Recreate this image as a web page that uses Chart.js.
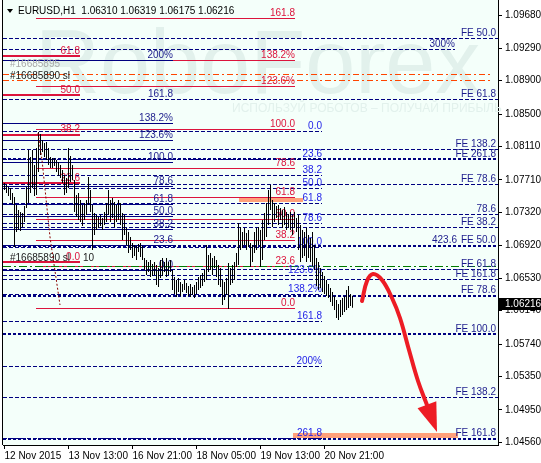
<!DOCTYPE html>
<html>
<head>
<meta charset="utf-8">
<title>EURUSD,H1</title>
<script src="https://cdn.jsdelivr.net/npm/chart.js@4.4.1/dist/chart.umd.min.js"></script>
<style>
  html, body { margin: 0; padding: 0; background: #fff; }
  canvas { display: block; }
</style>
</head>
<body>
<canvas id="chart" width="541" height="463"></canvas>
<script>
// Bars (H1), high / low
const barHigh = [
  1.07672, 1.07648, 1.07624, 1.07612, 1.07552, 1.07504, 1.07408, 1.07348, 1.07324, 1.07312,
  1.07396, 1.07624, 1.08068, 1.07984, 1.08068, 1.07888, 1.08092, 1.08284, 1.08260, 1.08188,
  1.08152, 1.08164, 1.08092, 1.07984, 1.07972, 1.07972, 1.07948, 1.07924, 1.07888, 1.07828,
  1.07768, 1.07732, 1.08092, 1.07996, 1.07888, 1.07708, 1.07528, 1.07552, 1.07468, 1.07408,
  1.07432, 1.07468, 1.07744, 1.07588, 1.07408, 1.07312, 1.07288, 1.07264, 1.07288, 1.07252,
  1.07324, 1.07432, 1.07588, 1.07468, 1.07492, 1.07444, 1.07408, 1.07468, 1.07432, 1.07312,
  1.07288, 1.07132, 1.07084, 1.07024, 1.06952, 1.06928, 1.06916, 1.06940, 1.06952, 1.06916,
  1.06772, 1.06748, 1.06724, 1.06748, 1.06700, 1.06724, 1.06688, 1.06652, 1.06748, 1.06772,
  1.06724, 1.06772, 1.06724, 1.06748, 1.06628, 1.06544, 1.06508, 1.06532, 1.06484, 1.06460,
  1.06508, 1.06472, 1.06436, 1.06460, 1.06424, 1.06448, 1.06484, 1.06544, 1.06568, 1.06592,
  1.06628, 1.06928, 1.06808, 1.06832, 1.06772, 1.06796, 1.06748, 1.06688, 1.06652, 1.06508,
  1.06484, 1.06532, 1.06712, 1.06652, 1.06688, 1.06724, 1.06832, 1.07192, 1.07144, 1.07084,
  1.07132, 1.07072, 1.07108, 1.06952, 1.06928, 1.07084, 1.07132, 1.07144, 1.07108, 1.07228,
  1.07312, 1.07432, 1.07588, 1.07648, 1.07468, 1.07432, 1.07396, 1.07408, 1.07372, 1.07348,
  1.07384, 1.07324, 1.07300, 1.07324, 1.07288, 1.07324, 1.07252, 1.07288, 1.07168, 1.07108,
  1.07084, 1.07132, 1.07048, 1.07012, 1.07084, 1.06928, 1.06772, 1.06724, 1.06652, 1.06604,
  1.06556, 1.06508, 1.06460, 1.06412, 1.06364, 1.06316, 1.06268, 1.06220, 1.06268, 1.06292,
  1.06316, 1.06388, 1.06436, 1.06340, 1.06319
];
const barLow = [
  1.07588, 1.07552, 1.07516, 1.07468, 1.07420, 1.06904, 1.07084, 1.07108, 1.07096, 1.07144,
  1.07204, 1.07372, 1.07432, 1.07552, 1.07612, 1.07516, 1.07528, 1.07804, 1.08008, 1.08044,
  1.07984, 1.07948, 1.07888, 1.07852, 1.07852, 1.07876, 1.07804, 1.07756, 1.07732, 1.07672,
  1.07528, 1.07552, 1.07612, 1.07684, 1.07708, 1.07324, 1.07264, 1.07228, 1.07204, 1.07156,
  1.07228, 1.07288, 1.07408, 1.07324, 1.06868, 1.07048, 1.07108, 1.07132, 1.07156, 1.07108,
  1.07168, 1.07204, 1.07288, 1.07204, 1.07252, 1.07144, 1.07204, 1.07228, 1.07168, 1.06988,
  1.07048, 1.06928, 1.06832, 1.06868, 1.06772, 1.06796, 1.06748, 1.06844, 1.06784, 1.06748,
  1.06628, 1.06568, 1.06604, 1.06544, 1.06556, 1.06568, 1.06448, 1.06424, 1.06532, 1.06556,
  1.06604, 1.06544, 1.06568, 1.06604, 1.06388, 1.06340, 1.06304, 1.06364, 1.06316, 1.06364,
  1.06388, 1.06352, 1.06316, 1.06304, 1.06328, 1.06292, 1.06340, 1.06388, 1.06412, 1.06436,
  1.06484, 1.06508, 1.06604, 1.06628, 1.06568, 1.06652, 1.06544, 1.06448, 1.06424, 1.06208,
  1.06268, 1.06328, 1.06160, 1.06448, 1.06472, 1.06508, 1.06664, 1.06688, 1.06868, 1.06892,
  1.06928, 1.06868, 1.06904, 1.06664, 1.06724, 1.06832, 1.06868, 1.06928, 1.06664, 1.06748,
  1.06988, 1.07024, 1.07168, 1.07348, 1.07144, 1.07204, 1.07252, 1.07168, 1.07228, 1.07132,
  1.07168, 1.07108, 1.07132, 1.07108, 1.07048, 1.07132, 1.07084, 1.06868, 1.06724, 1.06772,
  1.06796, 1.06724, 1.06772, 1.06724, 1.06676, 1.06628, 1.06436, 1.06388, 1.06412, 1.06364,
  1.06340, 1.06316, 1.06292, 1.06244, 1.06196, 1.06148, 1.06052, 1.06028, 1.06064, 1.06088,
  1.06124, 1.06148, 1.06172, 1.06196, 1.06175
];
const lastQuote = ['1.06310', '1.06319', '1.06175', '1.06216'];
const lastClose = 1.06216;

// axes
const xTickBars = [0, 32, 64, 96, 128, 160];
const xTickLabels = ['12 Nov 2015', '13 Nov 13:00', '16 Nov 21:00', '18 Nov 05:00', '19 Nov 13:00', '20 Nov 21:00'];
const yTickValues = [1.09680, 1.09290, 1.08900, 1.08500, 1.08110, 1.07710, 1.07320, 1.06920, 1.06530, 1.06140, 1.05740, 1.05350, 1.04950, 1.04560];
const yMin = 1.04528, yMax = 1.09868;
const xMin = -0.75, xMax = 246.75;

// red fibo (thin)
const redFibo = [1.09652, 1.09136, 1.08824, 1.08320, 1.07852, 1.07492, 1.07240, 1.06976, 1.06676, 1.06160];
const redFiboLabels = ['161.8', '138.2%', '123.6%', '100.0', '78.6', '61.8', '50.0', '38.2', '23.6', '0.0'];
const redFiboSpan = [15.5, 145.25];
// red fibo (thick, short)
const redShort = [1.09196, 1.08728, 1.08248, 1.07672, 1.06724];
const redShortLabels = ['61.8', '50.0', '38.2', '23.6', '0.0'];
const redShortSpan = [xMin, 37.75];
// navy fibo (solid)
const navyFibo = [1.09142, 1.08380, 1.08188, 1.07924, 1.07624, 1.07420, 1.07276, 1.07120, 1.06928, 1.06628];
const navyFiboLabels = ['200%', '138.2%', '123.6%', '100.0', '78.6', '61.8', '50.0', '38.2', '23.6', '0.0'];
const navyFiboSpan = [xMin, 84];
// blue fibo (dashed)
const blueFibo = [1.08296, 1.07960, 1.07768, 1.07612, 1.07432, 1.07192, 1.06892, 1.06556, 1.06340, 1.06016, 1.05464, 1.04600];
const blueFiboLabels = ['0.0', '23.6', '38.2', '50.0', '61.8', '78.6', '100.0', '123.6%', '138.2%', '161.8', '200%', '261.8'];
const blueFiboSpan = [xMin, 158.75];
// FE expansion levels, full width
const feLevels = [1.09412, 1.08668, 1.08080, 1.07660, 1.07288, 1.07132, 1.06640, 1.06520, 1.05092];
const feLabels = ['FE 50.0', 'FE 61.8', 'FE 138.2', 'FE 78.6', '78.6', 'FE 38.2', 'FE 61.8', 'FE 161.8', 'FE 138.2'];
const feDouble = [1.07960, 1.06916, 1.06316, 1.05860, 1.04600];
const feDoubleLabels = ['FE 261.8', 'FE 50.0', 'FE 78.6', 'FE 100.0', 'FE 161.8'];
const feLabelAt = 245.75;
const extLevels = [1.09268];
const extLabels = ['300%'];
const extSpan = [xMin, 225.25];
const looseText = ['161.8', '423.6'];
const looseX = [84, 226.25];
const looseY = [1.08668, 1.06916];
// other lines
const slLevels = [1.08974, 1.08908];
const slSpan = [xMin, 243.75];
const greenLevel = [1.06676];
const orderText = ['#16685895', '#16685890 sl', '#16685890 sl', '10'];
const orderX = [2.75, 2.75, 2.75, 39.25];
const orderY = [1.09100, 1.08956, 1.06772, 1.06772];
// target zones
const zoneFrom = [117.25, 144.25];
const zoneTo = [149.25, 226.75];
const zoneTop = [1.07492, 1.04672];
const zoneBottom = [1.07444, 1.04612];
// forecast arrow
const arrowX = [178.75, 181.25, 184.25, 188.75, 193.75, 197.75, 202.25, 206.75, 211.25];
const arrowY = [1.06256, 1.06496, 1.06580, 1.06508, 1.06292, 1.06052, 1.05668, 1.05296, 1.05008];
const arrowTip = [216.25, 1.04684];
// zigzag
const zigX = [16.75, 18.75, 22.75, 27.75];
const zigY = [1.08272, 1.07948, 1.07024, 1.06208];

const FONT = "'Liberation Sans', Arial, sans-serif";
const NAVY = '#000080';
const CRIMSON = '#dc143c';

function hline(ctx, x0, x1, py, color, width, dash) {
  const yy = width % 2 ? Math.floor(py) + 0.5 : Math.round(py);
  ctx.beginPath();
  ctx.setLineDash(dash || []);
  ctx.lineWidth = width;
  ctx.strokeStyle = color;
  ctx.moveTo(Math.round(x0), yy);
  ctx.lineTo(Math.round(x1), yy);
  ctx.stroke();
}

function levelLines(chart, levels, span, color, width, dash) {
  const { ctx, scales: { x, y } } = chart;
  const x0 = x.getPixelForValue(span[0]), x1 = x.getPixelForValue(span[1]);
  levels.forEach(v => hline(ctx, x0, x1, y.getPixelForValue(v), color, width, dash));
}

function levelText(chart, levels, labels, xEnd, color) {
  const { ctx, scales: { x, y } } = chart;
  const px = Math.round(x.getPixelForValue(xEnd));
  ctx.font = '10px ' + FONT;
  ctx.fillStyle = color;
  ctx.textAlign = 'right';
  ctx.textBaseline = 'alphabetic';
  labels.forEach((t, i) => ctx.fillText(t, px, Math.floor(y.getPixelForValue(levels[i])) - 2));
}

const fiboPlugin = {
  id: 'fibo',
  beforeDraw(chart) {
    const { ctx, chartArea: a } = chart;
    ctx.save();
    ctx.fillStyle = '#f4fffa';
    ctx.fillRect(a.left, a.top, a.right - a.left, a.bottom - a.top);
    ctx.restore();
  },
  beforeDatasetsDraw(chart) {
    const { ctx, scales: { x, y } } = chart;
    ctx.save();
    // watermark
    ctx.fillStyle = '#e2f1ec';
    ctx.textAlign = 'left';
    ctx.textBaseline = 'alphabetic';
    ctx.font = '90px ' + FONT;
    ctx.fillText('RoboForex', 35, 93);
    ctx.font = '12px ' + FONT;
    ctx.fillText('ИСПОЛЬЗУЙ РОБОТОВ – ПОЛУЧАЙ ПРИБЫЛЬ', 232, 112);

    ctx.fillStyle = '#ffa07a';
    zoneFrom.forEach((f, i) => {
      const x0 = Math.round(x.getPixelForValue(f)), x1 = Math.round(x.getPixelForValue(zoneTo[i]));
      const y0 = Math.round(y.getPixelForValue(zoneTop[i])), y1 = Math.round(y.getPixelForValue(zoneBottom[i]));
      ctx.fillRect(x0, y0, x1 - x0, y1 - y0);
    });

    levelLines(chart, redFibo, redFiboSpan, CRIMSON, 1);
    levelLines(chart, redShort, redShortSpan, CRIMSON, 2);
    levelLines(chart, navyFibo, navyFiboSpan, NAVY, 1);
    levelLines(chart, blueFibo, blueFiboSpan, NAVY, 1, [4, 2]);
    levelLines(chart, feLevels, [xMin, xMax], NAVY, 1, [4, 2]);
    levelLines(chart, extLevels, extSpan, NAVY, 1, [4, 2]);
    levelLines(chart, feDouble, [xMin, xMax], NAVY, 2, [3, 2]);
    levelLines(chart, greenLevel, [xMin, xMax], '#007a00', 1, [8, 3, 2, 3]);
    levelLines(chart, slLevels, slSpan, '#ff4500', 1, [6, 3, 2, 3]);

    ctx.setLineDash([]);
    levelText(chart, redFibo, redFiboLabels, redFiboSpan[1], CRIMSON);
    levelText(chart, redShort, redShortLabels, redShortSpan[1], CRIMSON);
    levelText(chart, navyFibo, navyFiboLabels, navyFiboSpan[1], '#1c1c8c');
    levelText(chart, blueFibo, blueFiboLabels, blueFiboSpan[1], '#2323e8');
    levelText(chart, feLevels, feLabels, feLabelAt, '#1c1c8c');
    levelText(chart, feDouble, feDoubleLabels, feLabelAt, '#1c1c8c');
    levelText(chart, extLevels, extLabels, extSpan[1], '#1c1c8c');
    looseText.forEach((t, i) => levelText(chart, [looseY[i]], [t], looseX[i], '#1c1c8c'));

    // order labels
    ctx.textAlign = 'left';
    ctx.textBaseline = 'middle';
    orderText.forEach((t, i) => {
      ctx.fillStyle = i === 0 ? '#a8a8a8' : '#202020';
      ctx.fillText(t, Math.round(x.getPixelForValue(orderX[i])), Math.round(y.getPixelForValue(orderY[i])));
    });
    ctx.restore();
  },
  afterDatasetsDraw(chart) {
    const { ctx, scales: { x, y } } = chart;
    // arrow head
    const n = arrowX.length - 1;
    const tx = x.getPixelForValue(arrowTip[0]), ty = y.getPixelForValue(arrowTip[1]);
    const bx = x.getPixelForValue(arrowX[n]), by = y.getPixelForValue(arrowY[n]);
    const ang = Math.atan2(ty - by, tx - bx);
    const len = 29, half = 10;
    const mx = tx - len * Math.cos(ang), my = ty - len * Math.sin(ang);
    ctx.save();
    ctx.fillStyle = '#ed1c24';
    ctx.beginPath();
    ctx.moveTo(tx, ty);
    ctx.lineTo(mx + half * Math.sin(ang), my - half * Math.cos(ang));
    ctx.lineTo(mx - half * Math.sin(ang), my + half * Math.cos(ang));
    ctx.closePath();
    ctx.fill();
    ctx.restore();
  },
  afterDraw(chart) {
    const { ctx, chartArea: a, scales: { y } } = chart;
    ctx.save();
    // left frame
    ctx.fillStyle = '#000';
    ctx.fillRect(a.left - 1, 0, 1, a.bottom);
    // header
    ctx.beginPath();
    ctx.moveTo(7, 9); ctx.lineTo(13, 9); ctx.lineTo(10, 13); ctx.closePath();
    ctx.fill();
    ctx.font = '10px ' + FONT;
    ctx.textAlign = 'left';
    ctx.textBaseline = 'middle';
    ctx.fillText('EURUSD,H1  ' + lastQuote.join(' '), 18, 11);
    // current price
    const py = Math.round(y.getPixelForValue(lastClose));
    ctx.fillRect(a.right + 1, py - 6, 42, 12);
    ctx.fillStyle = '#fff';
    ctx.fillText(lastClose.toFixed(5), a.right + 7, py);
    ctx.restore();
  }
};

Chart.defaults.font.family = FONT;
Chart.defaults.font.size = 10;
Chart.defaults.color = '#000';

const ctx = document.getElementById('chart').getContext('2d');
const myChart = new Chart(ctx, {
  type: 'bar',
  data: {
    datasets: [
      {
        type: 'line',
        data: arrowX.map((v, i) => ({ x: v, y: arrowY[i] })),
        borderColor: '#ed1c24', borderWidth: 4, borderCapStyle: 'round',
        pointRadius: 0, tension: 0.4, order: 0
      },
      {
        type: 'line',
        data: zigX.map((v, i) => ({ x: v, y: zigY[i] })),
        borderColor: '#8b0000', borderWidth: 1, borderDash: [2, 2],
        pointRadius: 0, tension: 0, order: 1
      },
      {
        type: 'bar',
        data: barHigh.map((h, i) => ({ x: i, y: [barLow[i], h] })),
        backgroundColor: '#000', borderWidth: 0, barThickness: 1, inflateAmount: 0, order: 2
      }
    ]
  },
  options: {
    responsive: false,
    animation: false,
    devicePixelRatio: 1,
    layout: { padding: { left: 3, top: 0, right: 0, bottom: 0 }, autoPadding: false },
    plugins: { legend: { display: false }, tooltip: { enabled: false } },
    scales: {
      x: {
        type: 'linear', min: xMin, max: xMax, offset: false,
        afterBuildTicks: s => { s.ticks = xTickBars.map(v => ({ value: v })); },
        afterFit: s => { s.height = 18; s.paddingLeft = 0; s.paddingRight = 0; },
        ticks: {
          callback: (v, i) => xTickLabels[i], align: 'start', autoSkip: false,
          maxRotation: 0, padding: 1, color: '#000'
        },
        grid: { drawOnChartArea: false, offset: false, tickLength: 4, color: '#000' },
        border: { display: true, color: '#000' }
      },
      y: {
        type: 'linear', position: 'right', min: yMin, max: yMax,
        afterBuildTicks: s => { s.ticks = yTickValues.map(v => ({ value: v })); },
        afterFit: s => { s.width = 43; s.paddingTop = 0; s.paddingBottom = 0; },
        ticks: { callback: v => v.toFixed(5), autoSkip: false, padding: 3, color: '#000' },
        grid: { drawOnChartArea: false, tickLength: 4, color: '#000' },
        border: { display: true, color: '#000' }
      }
    }
  },
  plugins: [fiboPlugin]
});
</script>
</body>
</html>
